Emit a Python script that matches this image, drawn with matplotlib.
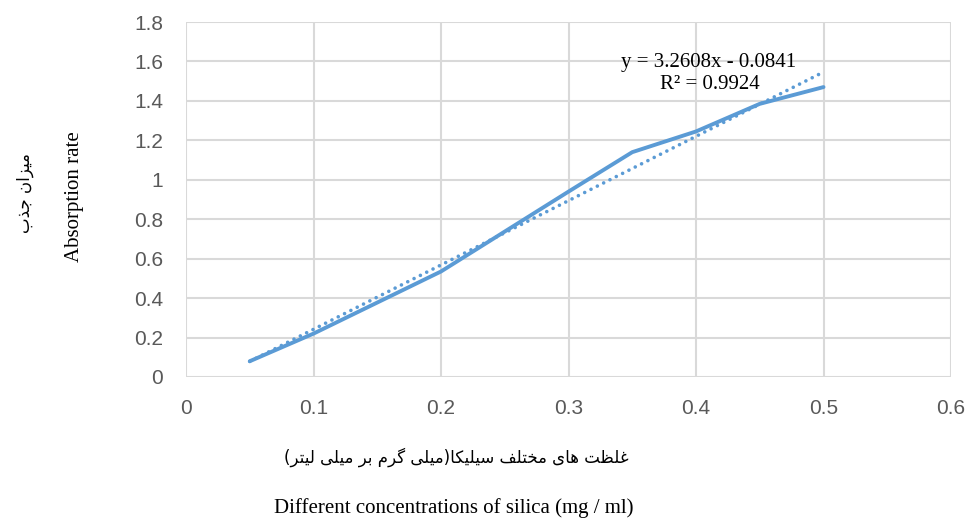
import matplotlib
matplotlib.use("Agg")
import matplotlib.pyplot as plt

# ---- data ----
conc = [0.05, 0.1, 0.2, 0.3, 0.35, 0.4, 0.45, 0.5]
absorb = [0.08, 0.22, 0.535, 0.94, 1.14, 1.245, 1.385, 1.47]
trend_slope = 3.2608
trend_intercept = -0.0841
trend_r2 = 0.9924
x_ticks = [0, 0.1, 0.2, 0.3, 0.4, 0.5, 0.6]
x_ticklabels = ["0", "0.1", "0.2", "0.3", "0.4", "0.5", "0.6"]
y_ticks = [0, 0.2, 0.4, 0.6, 0.8, 1.0, 1.2, 1.4, 1.6, 1.8]
y_ticklabels = ["0", "0.2", "0.4", "0.6", "0.8", "1", "1.2", "1.4", "1.6", "1.8"]
ylabel_fa = "میزان جذب"
ylabel_en = "Absorption rate"
xlabel_fa = "غلظت های مختلف سیلیکا(میلی گرم بر میلی لیتر)"
xlabel_en = "Different concentrations of silica (mg / ml)"

# ---- minimal Persian shaping (matplotlib has no shaping / bidi) ----
FORMS = {
    'ا': ('\uFE8D', '\uFE8E', None, None),
    'ب': ('\uFE8F', '\uFE90', '\uFE91', '\uFE92'),
    'ت': ('\uFE95', '\uFE96', '\uFE97', '\uFE98'),
    'ج': ('\uFE9D', '\uFE9E', '\uFE9F', '\uFEA0'),
    'خ': ('\uFEA5', '\uFEA6', '\uFEA7', '\uFEA8'),
    'ذ': ('\uFEAB', '\uFEAC', None, None),
    'ر': ('\uFEAD', '\uFEAE', None, None),
    'ز': ('\uFEAF', '\uFEB0', None, None),
    'س': ('\uFEB1', '\uFEB2', '\uFEB3', '\uFEB4'),
    'ظ': ('\uFEC5', '\uFEC6', '\uFEC7', '\uFEC8'),
    'غ': ('\uFECD', '\uFECE', '\uFECF', '\uFED0'),
    'ف': ('\uFED1', '\uFED2', '\uFED3', '\uFED4'),
    'ک': ('\uFB8E', '\uFB8F', '\uFB90', '\uFB91'),
    'گ': ('\uFB92', '\uFB93', '\uFB94', '\uFB95'),
    'ل': ('\uFEDD', '\uFEDE', '\uFEDF', '\uFEE0'),
    'م': ('\uFEE1', '\uFEE2', '\uFEE3', '\uFEE4'),
    'ن': ('\uFEE5', '\uFEE6', '\uFEE7', '\uFEE8'),
    'ه': ('\uFEE9', '\uFEEA', '\uFEEB', '\uFEEC'),
    'ی': ('\uFBFC', '\uFBFD', '\uFBFE', '\uFBFF'),
}
MIRROR = {'(': ')', ')': '('}


def shape_fa(s):
    out = []
    for i, c in enumerate(s):
        if c not in FORMS:
            out.append(c)
            continue
        prev = s[i - 1] if i > 0 else None
        nxt = s[i + 1] if i + 1 < len(s) else None
        jp = prev in FORMS and FORMS[prev][2] is not None
        jn = nxt in FORMS and FORMS[c][2] is not None
        iso, fin, ini, med = FORMS[c]
        if jp and jn:
            out.append(med)
        elif jp:
            out.append(fin)
        elif jn:
            out.append(ini)
        else:
            out.append(iso)
    return ''.join(MIRROR.get(c, c) for c in reversed(out))


W, H = 966, 519
fig = plt.figure(figsize=(W / 100, H / 100), dpi=100)
ax = fig.add_axes([186 / W, 1 - 377 / H, (951 - 186) / W, (377 - 22) / H])

blue = "#5B9BD5"
grid = "#D9D9D9"

ax.plot(conc, absorb, color=blue, lw=2.8, solid_capstyle="round",
        solid_joinstyle="round", zorder=3)
tx = [conc[0], conc[-1]]
ty = [trend_slope * v + trend_intercept for v in tx]
ax.plot(tx, ty, color=blue, lw=2.6, linestyle=(0, (0.01, 1.95)),
        dash_capstyle="round", zorder=3)

ax.set_xlim(0, 0.6)
ax.set_ylim(0, 1.8)
ax.set_xticks(x_ticks)
ax.set_xticklabels(x_ticklabels)
ax.set_yticks(y_ticks)
ax.set_yticklabels(y_ticklabels)
ax.grid(True, color=grid, lw=1.5, zorder=0)
ax.set_axisbelow(True)
for sp in ax.spines.values():
    sp.set_visible(False)
ax.tick_params(length=0, labelcolor="#595959", labelsize=15)
ax.tick_params(axis="y", pad=16.5)
ax.tick_params(axis="x", pad=16)
for lab in ax.get_xticklabels() + ax.get_yticklabels():
    lab.set_family("Liberation Sans")

# trendline equation
fig.text(709 / W, 1 - 62 / H, f"y = {trend_slope}x - {abs(trend_intercept)}",
         ha="center", va="center", family="Liberation Serif", fontsize=15, color="black")
fig.text(710 / W, 1 - 85 / H, f"R² = {trend_r2}",
         ha="center", va="center", family="Liberation Serif", fontsize=15, color="black")

# axis titles
fig.text(75 / W, 1 - 197 / H, ylabel_en, rotation=90, ha="center", va="center",
         family="Liberation Serif", fontsize=15, color="black")
fig.text(25 / W, 1 - 193 / H, shape_fa(ylabel_fa), rotation=90, ha="center", va="center",
         family=["DejaVu Sans"], fontsize=12, color="black")
fig.text(456 / W, 1 - 457 / H, shape_fa(xlabel_fa), ha="center", va="center",
         family=["DejaVu Sans"], fontsize=12, color="black")
fig.text(454 / W, 1 - 508 / H, xlabel_en, ha="center", va="center",
         family="Liberation Serif", fontsize=15, color="black")

fig.savefig("out.png", dpi=100, facecolor="white")
